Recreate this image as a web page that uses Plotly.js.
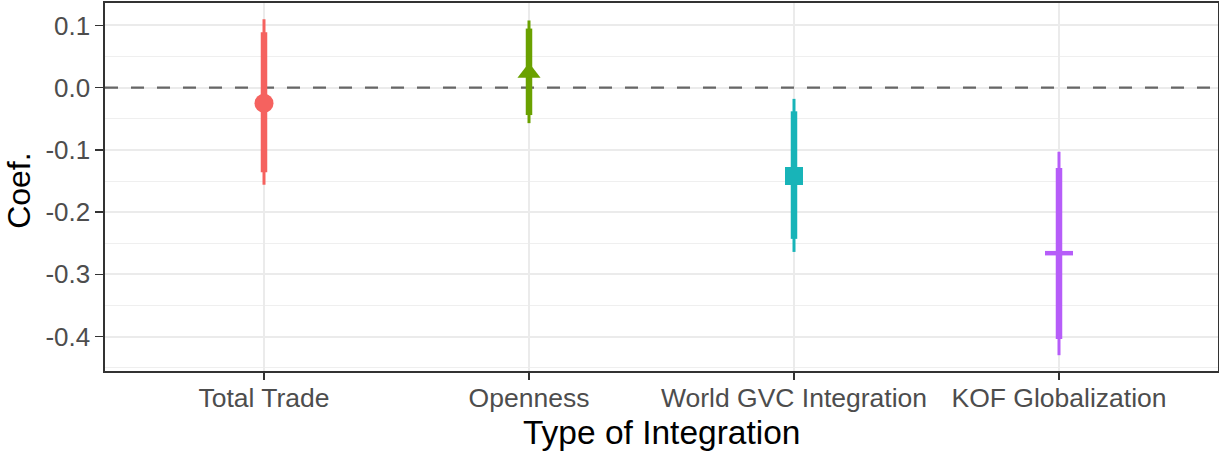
<!DOCTYPE html>
<html><head><meta charset="utf-8">
<script src="https://cdn.plot.ly/plotly-3.0.1.min.js"></script>
<style>html,body{margin:0;padding:0;background:#fff}#chart{width:1219px;height:451px}</style>
</head><body><div id="chart"></div>
<script>
const categories = ["Total Trade", "Openness", "World GVC Integration", "KOF Globalization"];
const estimates = [-0.025, 0.024, -0.142, -0.266];
const ciOuterLow = [-0.156, -0.057, -0.264, -0.430];
const ciOuterHigh = [0.110, 0.108, -0.018, -0.103];
const ciInnerLow = [-0.136, -0.044, -0.243, -0.404];
const ciInnerHigh = [0.089, 0.095, -0.038, -0.129];
const yTickValues = [-0.4, -0.3, -0.2, -0.1, 0, 0.1];
const yTickLabels = ["-0.4", "-0.3", "-0.2", "-0.1", "0.0", "0.1"];
const referenceValue = 0;
const colors = ["#F5625F", "#6AA100", "#18B4B8", "#B65DF9"];
const symbols = ["circle", "triangle-up", "square", "line-ew"];
const markerSizes = [19, 20, 18, 20];

const xPos = categories.map((c, i) => i);
const xRange = [-0.6, categories.length - 1 + 0.6];
const FONT = '"Liberation Sans", Arial, Helvetica, sans-serif';
const traces = [];
traces.push({type: 'scatter', mode: 'lines', x: xRange, y: [referenceValue, referenceValue],
  line: {color: '#666666', width: 2.4, dash: '13px,13px'}, hoverinfo: 'skip', cliponaxis: true});
categories.forEach((c, i) => {
  traces.push({type: 'scatter', mode: 'lines', x: [xPos[i], xPos[i]], y: [ciOuterLow[i], ciOuterHigh[i]],
    line: {color: colors[i], width: 3}, hoverinfo: 'skip'});
  traces.push({type: 'scatter', mode: 'lines', x: [xPos[i], xPos[i]], y: [ciInnerLow[i], ciInnerHigh[i]],
    line: {color: colors[i], width: 6.5}, hoverinfo: 'skip'});
  traces.push({type: 'scatter', mode: 'markers', x: [xPos[i]], y: [estimates[i]], name: c,
    marker: {symbol: symbols[i], size: markerSizes[i], color: colors[i],
      line: {width: symbols[i] === 'line-ew' ? 4.5 : 0, color: colors[i]}}});
});

const layout = {
  width: 1219, height: 451,
  margin: {l: 105, r: 1, t: 3, b: 80},
  paper_bgcolor: '#fff', plot_bgcolor: '#fff',
  showlegend: false,
  font: {family: FONT, color: '#4D4D4D'},
  xaxis: {
    range: xRange, tickmode: 'array', tickvals: xPos, ticktext: categories,
    showgrid: true, gridcolor: '#EBEBEB', gridwidth: 2,
    ticks: 'outside', ticklen: 7, tickwidth: 1.6, tickcolor: '#333', ticklabelstandoff: -4,
    showline: true, linecolor: '#333', linewidth: 1.6, mirror: true,
    zeroline: false, tickfont: {size: 26.5, color: '#4D4D4D', family: FONT}, fixedrange: true
  },
  yaxis: {
    range: [-0.4554, 0.1361], tickmode: 'array', tickvals: yTickValues, ticktext: yTickLabels,
    showgrid: true, gridcolor: '#EBEBEB', gridwidth: 2,
    minor: {tickmode: 'linear', tick0: 0.05, dtick: 0.1, showgrid: true, gridcolor: '#EFEFEF', gridwidth: 1, ticks: ''},
    ticks: 'outside', ticklen: 8, tickwidth: 1.6, tickcolor: '#333',
    showline: true, linecolor: '#333', linewidth: 1.6, mirror: true,
    zeroline: false, tickfont: {size: 26, color: '#4D4D4D', family: FONT}, fixedrange: true
  },
  annotations: [
    {text: 'Coef.', xref: 'paper', yref: 'paper', x: -0.078, y: 0.49, xanchor: 'center', yanchor: 'middle',
      textangle: -90, showarrow: false, font: {size: 32, color: '#000', family: FONT}},
    {text: 'Type of Integration', xref: 'paper', yref: 'paper', x: 0.5, y: -0.166, xanchor: 'center', yanchor: 'middle',
      showarrow: false, font: {size: 33.5, color: '#000', family: FONT}}
  ]
};
Plotly.newPlot('chart', traces, layout, {displayModeBar: false, staticPlot: true});
</script></body></html>
